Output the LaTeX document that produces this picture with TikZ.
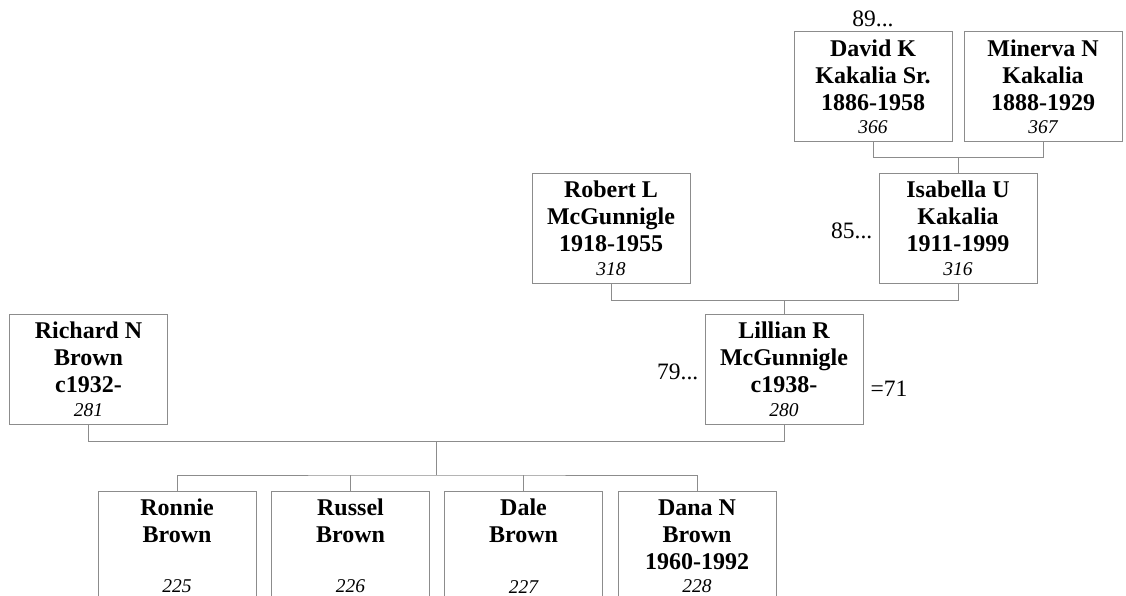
\documentclass[tikz,border=0pt]{standalone}
\usepackage{fontspec}
\setmainfont{Liberation Serif}
\usepackage{tikz}
\usetikzlibrary{calc,positioning}
\definecolor{boxgray}{RGB}{140,140,140}
\newcommand{\refno}[1]{{\normalfont\fontsize{19.5pt}{23pt}\selectfont\itshape #1}}

\begin{document}
\begin{tikzpicture}[
  x=1pt,y=-1pt,
  person/.style={draw=boxgray,line width=1pt,minimum width=158pt,minimum height=110pt,
    inner sep=0pt,align=center,font=\fontsize{24pt}{27pt}\selectfont\bfseries},
  link/.style={boxgray,line width=1pt},
  note/.style={font=\fontsize{23.5pt}{26.5pt}\selectfont,inner sep=0pt}
]
\useasboundingbox (0,0) rectangle (1126,596);
\clip (0,0) rectangle (1126,596);
% ancestors
\node[person] (david) at (873,87) {David K\\Kakalia Sr.\\1886-1958\\[-3.5pt]\refno{366}};
\node[person] (minerva) at (1043,87) {Minerva N\\Kakalia\\1888-1929\\[-3.5pt]\refno{367}};
\node[person] (robert) at (611,228.5) {Robert L\\McGunnigle\\1918-1955\\[-3.5pt]\refno{318}};
\node[person] (isabella) at (958,228.5) {Isabella U\\Kakalia\\1911-1999\\[-3.5pt]\refno{316}};
\node[person] (richard) at (88.5,369.5) {Richard N\\Brown\\c1932-\\[-3.5pt]\refno{281}};
\node[person] (lillian) at (784,369.5) {Lillian R\\McGunnigle\\c1938-\\[-3.5pt]\refno{280}};
% children
\foreach \k/\cx/\first/\dates/\no in {ronnie/177/Ronnie/\mbox{}/225,
    russel/350.5/Russel/\mbox{}/226,dale/523.5/Dale/\mbox{}/227,
    dana/697/Dana N/1960-1992/228}{
  \node[person] (\k) at (\cx,546) {\first\\Brown\\\dates\\[-3.5pt]\refno{\no}};
}
% couple bars
\draw[link] (david.south) -- ++(0,15) -| (minerva.south);
\coordinate (dm) at ($(david.south)!.5!(minerva.south)+(0,15)$);
\draw[link] (dm) -- (dm |- isabella.north);
\draw[link] (robert.south) -- ++(0,16) -| (isabella.south);
\coordinate (ri) at ($(robert.south)!.5!(isabella.south)+(0,16)$);
\draw[link] (ri) -- (ri |- lillian.north);
\draw[link] (richard.south) -- ++(0,16) -| (lillian.south);
\coordinate (rl) at ($(richard.south)!.5!(lillian.south)+(0,16)$);
\coordinate (kbar) at ($(rl)+(0,34)$);
\draw[link] (rl) -- (kbar);
\draw[link] (ronnie.north) |- (kbar) -| (dana.north);
\foreach \k in {russel,dale}
  \draw[link] (\k.north) -- (\k.north |- kbar);
% generation notes
\node[note,anchor=base] (gen89) at ([yshift=5pt]david.north) {89...};
\node[note,anchor=base east] (gen85) at ([xshift=-6pt,yshift=-9.5pt]isabella.west) {85...};
\node[note,anchor=base east] (gen79) at ([xshift=-6pt,yshift=-9.5pt]lillian.west) {79...};
\node[note,anchor=base west] (dup71) at ([xshift=7pt,yshift=-26.5pt]lillian.east) {=71};
\end{tikzpicture}
\end{document}
